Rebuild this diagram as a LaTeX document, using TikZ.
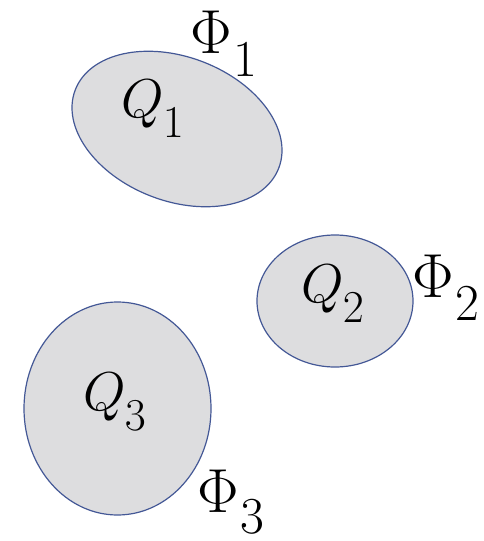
\documentclass[tikz,border=0pt]{standalone}
\newcommand{\lsub}[1]{\lower9.5pt\hbox{$\scriptstyle #1$}}
\begin{document}
\begin{tikzpicture}[x=1pt,y=-1pt,
  region/.style={draw=blobline,fill=blobfill,line width=1.2pt},
  qlab/.style={inner sep=0pt,anchor=base west,scale=2.2,font=\Huge},
  flab/.style={inner sep=0pt,anchor=base west,scale=2.5,font=\Huge}]
\definecolor{blobline}{RGB}{68,88,150}
\definecolor{blobfill}{RGB}{221,221,223}
\useasboundingbox (0,0) rectangle (484,541);
\draw[region] (177,129) ellipse[x radius=109,y radius=72,rotate=-21];
\draw[region] (335,301) ellipse[x radius=78,y radius=66];
\draw[region] (117.5,408.5) ellipse[x radius=93.5,y radius=106.5];
\node[qlab] (q1) at (121,117) {$Q\kern-0.5pt\lsub{1}$};
\node[qlab] (q2) at (301,302) {$Q\kern-0.5pt\lsub{2}$};
\node[qlab] (q3) at (83,410) {$Q\kern-0.5pt\lsub{3}$};
\node[flab] (f1) at (190,53) {$\Phi\kern0.5pt\lsub{1}$};
\node[flab] (f2) at (412,297) {$\Phi\kern0.5pt\lsub{2}$};
\node[flab] (f3) at (197,512) {$\Phi\kern0.5pt\lower8.5pt\hbox{$\scriptstyle 3$}$};
\end{tikzpicture}
\end{document}
